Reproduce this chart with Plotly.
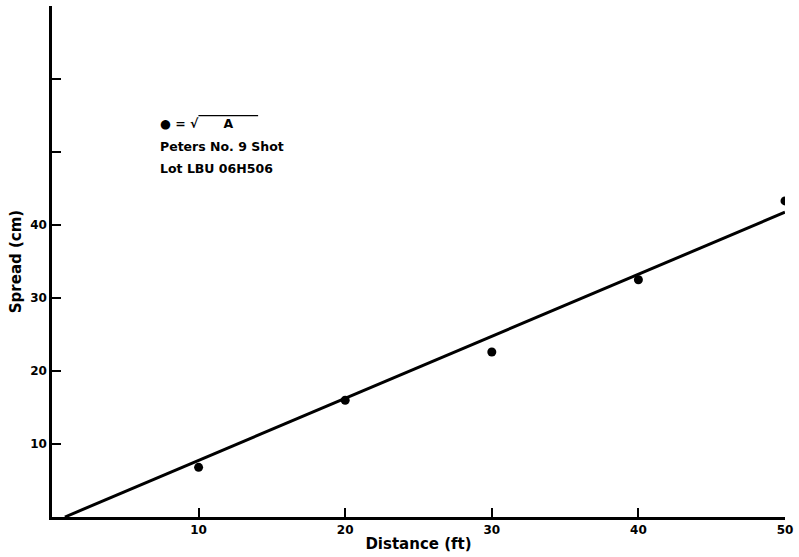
import plotly.graph_objects as go

# Measured shot spread versus distance
distance_ft = [10, 20, 30, 40, 50]
spread_cm = [6.8, 16.0, 22.6, 32.5, 43.3]

# Fitted straight line through the measurements
fit_slope = 0.85
fit_intercept = -0.75
fit_x = [0.88, 50]
fit_y = [fit_slope * x + fit_intercept for x in fit_x]

x_ticks = [10, 20, 30, 40, 50]
y_ticks = [10, 20, 30, 40, 50, 60, 70]
y_tick_labels = ["10", "20", "30", "40", "", "", ""]

font_family = "DejaVu Sans"

fig = go.Figure()
fig.add_trace(go.Scatter(
    x=fit_x, y=fit_y, mode="lines",
    line=dict(color="black", width=3), showlegend=False,
))
fig.add_trace(go.Scatter(
    x=distance_ft, y=spread_cm, mode="markers",
    marker=dict(color="black", size=9), showlegend=False,
))

legend_lines = [
    "\u25cf = \u221a<span style='text-decoration:overline'>\u2003\u2003A\u2003\u2003</span>",
    "Peters No. 9 Shot",
    "Lot LBU 06H506",
]
for i, txt in enumerate(legend_lines):
    fig.add_annotation(
        x=7.2, y=53.9 - i * 3.1, xref="x", yref="y", xanchor="left",
        text="<b>" + txt + "</b>", showarrow=False,
        font=dict(family=font_family, size=12.5, color="black"),
    )

fig.update_layout(
    width=799, height=557,
    margin=dict(l=52, r=9, t=6, b=40),
    paper_bgcolor="white", plot_bgcolor="white",
    font=dict(family=font_family, color="black"),
    xaxis=dict(
        range=[0, 50], tickvals=x_ticks, ticks="inside", ticklen=9,
        tickwidth=2, tickcolor="black", showgrid=False, zeroline=False,
        showline=True, linecolor="black", linewidth=2.5,
        tickfont=dict(size=12, family=font_family, weight="bold"),
        title=dict(text="<b>Distance (ft)</b>", font=dict(size=15),
                   standoff=3),
    ),
    yaxis=dict(
        range=[0, 70], tickvals=y_ticks, ticktext=y_tick_labels,
        ticks="inside", ticklen=9, tickwidth=2, tickcolor="black",
        showgrid=False, zeroline=False, showline=True, linecolor="black",
        linewidth=2.5,
        tickfont=dict(size=12, family=font_family, weight="bold"),
        title=dict(text="<b>Spread (cm)</b>", font=dict(size=15),
                   standoff=5),
    ),
)

fig.write_html("out.html")
